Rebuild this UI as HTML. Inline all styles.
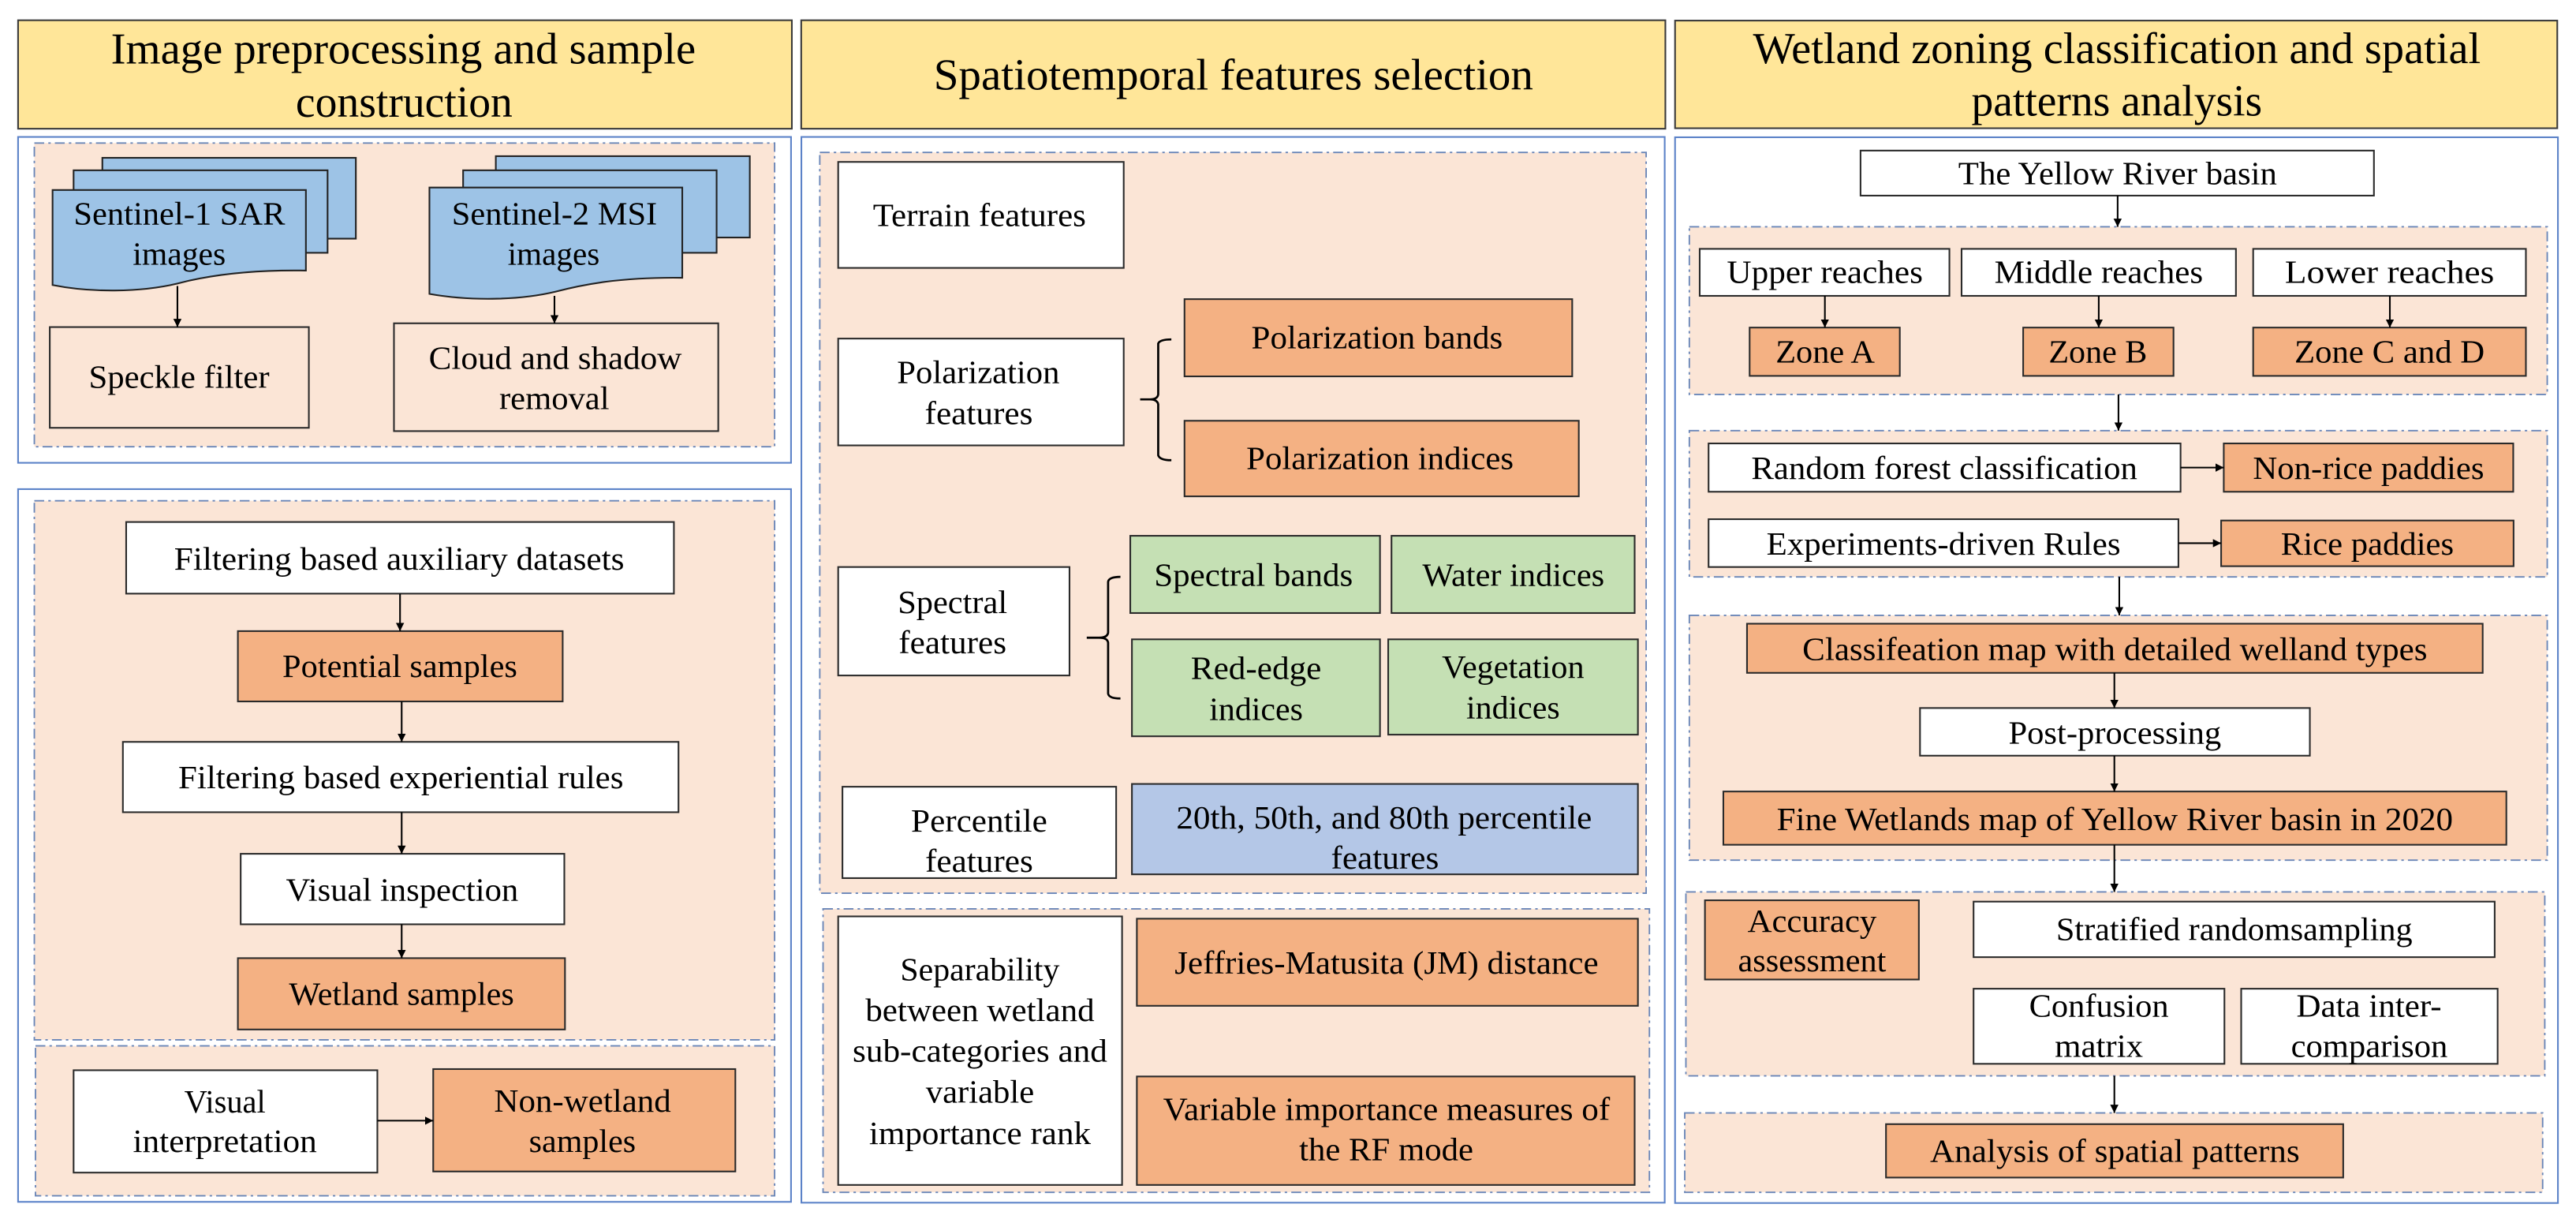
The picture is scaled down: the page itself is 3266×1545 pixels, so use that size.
<!DOCTYPE html>
<html><head><meta charset="utf-8"><style>
html,body{margin:0;padding:0;background:#fff;}
svg{display:block;}
svg text{font-family:"Liberation Serif","Times New Roman","DejaVu Serif",serif;fill:#000;}
</style></head><body>
<svg width="3266" height="1545" viewBox="0 0 1568 741.7" xmlns="http://www.w3.org/2000/svg" font-family="'Liberation Serif', 'Times New Roman', 'DejaVu Serif', serif">
<defs>
<marker id="ah" viewBox="0 0 10 10" refX="10" refY="5" markerWidth="5" markerHeight="5" orient="auto" markerUnits="userSpaceOnUse">
<path d="M0,0 L10,5 L0,10 z" fill="#000"/></marker>
</defs>
<g stroke="#3a3a3a" stroke-width="1">
<rect x="11" y="12.3" width="471" height="66" fill="#FFE699"/>
<rect x="487.7" y="12.3" width="526" height="66" fill="#FFE699"/>
<rect x="1019.6" y="12.5" width="537" height="65.5" fill="#FFE699"/>
</g>
<g font-size="27" text-anchor="middle" font-family="'Liberation Serif', 'Times New Roman', 'DejaVu Serif', serif">
<text x="245.5" y="38.7" textLength="356" lengthAdjust="spacingAndGlyphs">Image preprocessing and sample</text>
<text x="246" y="71" textLength="132" lengthAdjust="spacingAndGlyphs">construction</text>
<text x="750.8" y="54.4" textLength="365" lengthAdjust="spacingAndGlyphs">Spatiotemporal features selection</text>
<text x="1288.5" y="38.4" textLength="443" lengthAdjust="spacingAndGlyphs">Wetland zoning classification and spatial</text>
<text x="1288.5" y="70.4" textLength="177" lengthAdjust="spacingAndGlyphs">patterns analysis</text>
</g>
<g fill="#fff" stroke="#5B82C8" stroke-width="1">
<rect x="11" y="83.3" width="470.5" height="198.3"/>
<rect x="11" y="297.6" width="470.5" height="433.7"/>
<rect x="487.8" y="83.3" width="525.5" height="648.5"/>
<rect x="1019.6" y="83.5" width="537.4" height="648.5"/>
</g>
<g fill="#FBE5D6" stroke="#6A86B8" stroke-width="0.9" stroke-dasharray="6 2.5 1.5 2.5">
<rect x="20.9" y="87" width="450.6" height="184.8"/>
<rect x="20.9" y="304.7" width="450.6" height="328"/>
<rect x="21.6" y="636.4" width="449.9" height="91.2"/>
<rect x="499" y="92.7" width="503" height="450.8"/>
<rect x="501" y="553" width="503" height="172.5"/>
<rect x="1028.3" y="138" width="522.2" height="102"/>
<rect x="1028.3" y="262" width="522.2" height="89"/>
<rect x="1028.3" y="374.4" width="522.2" height="149"/>
<rect x="1026.2" y="542.7" width="522.8" height="111.9"/>
<rect x="1025.5" y="677.2" width="522.2" height="48.3"/>
</g>
<g fill="#9DC3E6" stroke="#222" stroke-width="1">
<rect x="62.3" y="96" width="154.3" height="49.2"/>
<rect x="44.8" y="103.6" width="154.6" height="50.2"/>
<path d="M32,115.6 H186.2 V164.6 C150,164 125,168 108,172.5 C85,178 55,178 32,173.4 Z"/>
<rect x="301.8" y="95" width="154.6" height="49.5"/>
<rect x="281.9" y="103.6" width="154.3" height="50.2"/>
<path d="M261.4,114.1 H415.3 V169 C378,168.5 355,173 338,177.5 C315,183 285,183 261.4,178.8 Z"/>
</g>
<g stroke="#2a2a2a" stroke-width="1">
<g fill="#FBE5D6">
<rect x="30.3" y="199" width="157.7" height="61.3"/>
<rect x="239.8" y="196.7" width="197.4" height="65.6"/>
</g>
<g fill="#fff">
<rect x="76.8" y="317.6" width="333.4" height="43.6"/>
<rect x="74.8" y="451.4" width="338.2" height="42.8"/>
<rect x="146.5" y="519.5" width="197" height="42.9"/>
<rect x="44.8" y="651.2" width="184.9" height="62.3"/>
<rect x="510.2" y="98.5" width="173.8" height="64.5"/>
<rect x="510.2" y="206" width="173.8" height="65"/>
<rect x="510.2" y="345" width="140.8" height="66"/>
<rect x="512.8" y="478.7" width="166.6" height="55.6"/>
<rect x="510.2" y="557.6" width="172.8" height="163.4"/>
<rect x="1132.5" y="91.6" width="312.5" height="27.4"/>
<rect x="1034.6" y="151.4" width="152" height="28.6"/>
<rect x="1194" y="151.4" width="167" height="28.6"/>
<rect x="1371.5" y="151.4" width="166" height="28.6"/>
<rect x="1040" y="269.8" width="287.3" height="29.4"/>
<rect x="1040" y="315.9" width="286" height="29.1"/>
<rect x="1168.7" y="430.8" width="237.3" height="29"/>
<rect x="1201.3" y="548.6" width="317.2" height="33.8"/>
<rect x="1201.3" y="601.6" width="152.7" height="45.7"/>
<rect x="1364.2" y="601.6" width="156.1" height="45.7"/>
</g>
<g fill="#F4B183">
<rect x="144.8" y="384" width="197.7" height="42.8"/>
<rect x="144.8" y="583" width="199.1" height="43.4"/>
<rect x="263.7" y="650.5" width="183.9" height="62.3"/>
<rect x="721" y="182" width="236" height="47"/>
<rect x="721" y="256" width="240" height="46"/>
<rect x="692" y="559" width="305" height="53"/>
<rect x="692" y="655" width="303" height="66"/>
<rect x="1065" y="199.3" width="91.4" height="29.4"/>
<rect x="1231.5" y="199.3" width="91.5" height="29.4"/>
<rect x="1371.5" y="199.3" width="166" height="29.4"/>
<rect x="1353.6" y="269.8" width="176.2" height="29.4"/>
<rect x="1352" y="316.7" width="178" height="27.8"/>
<rect x="1063.4" y="379.5" width="447.8" height="29.9"/>
<rect x="1049" y="481.6" width="476.6" height="32.4"/>
<rect x="1037.8" y="547.8" width="130.2" height="48.2"/>
<rect x="1148" y="684" width="278.3" height="32.5"/>
</g>
<g fill="#C5E0B4">
<rect x="688" y="326" width="152" height="47"/>
<rect x="847" y="326" width="148" height="47"/>
<rect x="689" y="389" width="151" height="59"/>
<rect x="845" y="389" width="152" height="58"/>
</g>
<rect x="689" y="477" width="308" height="55" fill="#B4C7E7"/>
</g>
<g fill="none" stroke="#000" stroke-width="1.3">
<path d="M713,206.5 Q706,206.5 705,209 V240 Q704.5,243 700,243 H694 M700,243 Q704.5,243 705,246 V277 Q706,280 713,280"/>
<path d="M682,351 Q675,351 674.5,354 V385 Q674,388 669,388 H661.5 M669,388 Q674,388 674.5,391 V422 Q675,425 682,425"/>
</g>
<g stroke="#000" stroke-width="1" marker-end="url(#ah)" fill="none">
<line x1="108" y1="174" x2="108" y2="199"/>
<line x1="337.5" y1="180" x2="337.5" y2="196.7"/>
<line x1="243.5" y1="361.2" x2="243.5" y2="384"/>
<line x1="244.5" y1="426.8" x2="244.5" y2="451.4"/>
<line x1="244.5" y1="494.2" x2="244.5" y2="519.5"/>
<line x1="244.5" y1="562.4" x2="244.5" y2="583"/>
<line x1="229.7" y1="681.9" x2="263.7" y2="681.9"/>
<line x1="1289" y1="119" x2="1289" y2="138"/>
<line x1="1110.8" y1="180" x2="1110.8" y2="199.3"/>
<line x1="1277.5" y1="180" x2="1277.5" y2="199.3"/>
<line x1="1454.7" y1="180" x2="1454.7" y2="199.3"/>
<line x1="1289.5" y1="240" x2="1289.5" y2="262"/>
<line x1="1327.3" y1="284.5" x2="1353.6" y2="284.5"/>
<line x1="1326" y1="330.5" x2="1352" y2="330.5"/>
<line x1="1290" y1="351" x2="1290" y2="374.4"/>
<line x1="1287" y1="409.4" x2="1287" y2="430.8"/>
<line x1="1287" y1="459.8" x2="1287" y2="481.6"/>
<line x1="1287" y1="514" x2="1287" y2="542.7"/>
<line x1="1287" y1="654.6" x2="1287" y2="677.2"/>
</g>
<g font-size="20" text-anchor="middle" font-family="'Liberation Serif', 'Times New Roman', 'DejaVu Serif', serif">
<text x="109.2" y="136.5" textLength="128.7" lengthAdjust="spacingAndGlyphs">Sentinel-1 SAR</text>
<text x="109.1" y="161" textLength="56.6" lengthAdjust="spacingAndGlyphs">images</text>
<text x="337.5" y="136.5" textLength="125" lengthAdjust="spacingAndGlyphs">Sentinel-2 MSI</text>
<text x="337" y="161" textLength="56" lengthAdjust="spacingAndGlyphs">images</text>
<text x="109" y="236" textLength="110" lengthAdjust="spacingAndGlyphs">Speckle filter</text>
<text x="338" y="224.5" textLength="154" lengthAdjust="spacingAndGlyphs">Cloud and shadow</text>
<text x="337.4" y="249" textLength="67" lengthAdjust="spacingAndGlyphs">removal</text>
<text x="243" y="346.5" textLength="274" lengthAdjust="spacingAndGlyphs">Filtering based auxiliary datasets</text>
<text x="243.4" y="412" textLength="143" lengthAdjust="spacingAndGlyphs">Potential samples</text>
<text x="244" y="479.5" textLength="271" lengthAdjust="spacingAndGlyphs">Filtering based experiential rules</text>
<text x="244.8" y="548" textLength="141.5" lengthAdjust="spacingAndGlyphs">Visual inspection</text>
<text x="244.4" y="611.5" textLength="137" lengthAdjust="spacingAndGlyphs">Wetland samples</text>
<text x="136.9" y="677" textLength="49.5" lengthAdjust="spacingAndGlyphs">Visual</text>
<text x="136.9" y="701" textLength="112" lengthAdjust="spacingAndGlyphs">interpretation</text>
<text x="354.6" y="676.5" textLength="107.7" lengthAdjust="spacingAndGlyphs">Non-wetland</text>
<text x="354.5" y="701" textLength="65" lengthAdjust="spacingAndGlyphs">samples</text>

<text x="596.2" y="137.5" textLength="129.7" lengthAdjust="spacingAndGlyphs">Terrain features</text>
<text x="595.5" y="233" textLength="99" lengthAdjust="spacingAndGlyphs">Polarization</text>
<text x="595.8" y="258" textLength="65.7" lengthAdjust="spacingAndGlyphs">features</text>
<text x="838.2" y="212" textLength="153" lengthAdjust="spacingAndGlyphs">Polarization bands</text>
<text x="840" y="285.5" textLength="162.7" lengthAdjust="spacingAndGlyphs">Polarization indices</text>
<text x="579.8" y="373" textLength="66.7" lengthAdjust="spacingAndGlyphs">Spectral</text>
<text x="579.8" y="397.5" textLength="65.7" lengthAdjust="spacingAndGlyphs">features</text>
<text x="763" y="356.5" textLength="121" lengthAdjust="spacingAndGlyphs">Spectral bands</text>
<text x="921.2" y="356.5" textLength="110.8" lengthAdjust="spacingAndGlyphs">Water indices</text>
<text x="764.6" y="413" textLength="79.5" lengthAdjust="spacingAndGlyphs">Red-edge</text>
<text x="764.6" y="438" textLength="57" lengthAdjust="spacingAndGlyphs">indices</text>
<text x="921" y="412.5" textLength="86.6" lengthAdjust="spacingAndGlyphs">Vegetation</text>
<text x="921" y="437" textLength="57" lengthAdjust="spacingAndGlyphs">indices</text>
<text x="596" y="506" textLength="82.9" lengthAdjust="spacingAndGlyphs">Percentile</text>
<text x="596" y="530.5" textLength="65.7" lengthAdjust="spacingAndGlyphs">features</text>
<text x="842.5" y="504" textLength="253" lengthAdjust="spacingAndGlyphs">20th, 50th, and 80th percentile</text>
<text x="843" y="528.5" textLength="65.7" lengthAdjust="spacingAndGlyphs">features</text>
<text x="596.5" y="596.5" textLength="97" lengthAdjust="spacingAndGlyphs">Separability</text>
<text x="596.5" y="621.2" textLength="139.4" lengthAdjust="spacingAndGlyphs">between wetland</text>
<text x="596.5" y="646" textLength="155" lengthAdjust="spacingAndGlyphs">sub-categories and</text>
<text x="596.5" y="671" textLength="66" lengthAdjust="spacingAndGlyphs">variable</text>
<text x="596.5" y="696" textLength="135" lengthAdjust="spacingAndGlyphs">importance rank</text>
<text x="844" y="592.5" textLength="258" lengthAdjust="spacingAndGlyphs">Jeffries-Matusita (JM) distance</text>
<text x="844" y="681.5" textLength="272" lengthAdjust="spacingAndGlyphs">Variable importance measures of</text>
<text x="843.8" y="706" textLength="106" lengthAdjust="spacingAndGlyphs">the RF mode</text>

<text x="1289" y="112" textLength="194" lengthAdjust="spacingAndGlyphs">The Yellow River basin</text>
<text x="1110.8" y="172" textLength="119.3" lengthAdjust="spacingAndGlyphs">Upper reaches</text>
<text x="1277.5" y="172" textLength="127" lengthAdjust="spacingAndGlyphs">Middle reaches</text>
<text x="1454.5" y="172" textLength="127.4" lengthAdjust="spacingAndGlyphs">Lower  reaches</text>
<text x="1111" y="220.5" textLength="60.4" lengthAdjust="spacingAndGlyphs">Zone A</text>
<text x="1277" y="220.5" textLength="60" lengthAdjust="spacingAndGlyphs">Zone B</text>
<text x="1454.5" y="220.5" textLength="115.8" lengthAdjust="spacingAndGlyphs">Zone C and D</text>
<text x="1183.5" y="291.5" textLength="235" lengthAdjust="spacingAndGlyphs">Random forest classification</text>
<text x="1441.7" y="291.5" textLength="140.7" lengthAdjust="spacingAndGlyphs">Non-rice paddies</text>
<text x="1183" y="337.5" textLength="215.5" lengthAdjust="spacingAndGlyphs">Experiments-driven Rules</text>
<text x="1441" y="337.5" textLength="105.3" lengthAdjust="spacingAndGlyphs">Rice paddies</text>
<text x="1287.3" y="401.5" textLength="380.4" lengthAdjust="spacingAndGlyphs">Classifeation map with detailed welland types</text>
<text x="1287.3" y="452.5" textLength="129.5" lengthAdjust="spacingAndGlyphs">Post-processing</text>
<text x="1287.3" y="505" textLength="411.6" lengthAdjust="spacingAndGlyphs">Fine Wetlands map of Yellow River basin in 2020</text>
<text x="1103" y="567" textLength="78.6" lengthAdjust="spacingAndGlyphs">Accuracy</text>
<text x="1103" y="591" textLength="90.2" lengthAdjust="spacingAndGlyphs">assessment</text>
<text x="1360" y="572" textLength="216.9" lengthAdjust="spacingAndGlyphs">Stratified randomsampling</text>
<text x="1277.6" y="618.5" textLength="85" lengthAdjust="spacingAndGlyphs">Confusion</text>
<text x="1277.6" y="643" textLength="53.7" lengthAdjust="spacingAndGlyphs">matrix</text>
<text x="1442" y="618.5" textLength="88.4" lengthAdjust="spacingAndGlyphs">Data inter-</text>
<text x="1442.2" y="643" textLength="95.4" lengthAdjust="spacingAndGlyphs">comparison</text>
<text x="1287.3" y="707" textLength="225" lengthAdjust="spacingAndGlyphs">Analysis of spatial patterns</text>
</g>
</svg>
</body></html>
